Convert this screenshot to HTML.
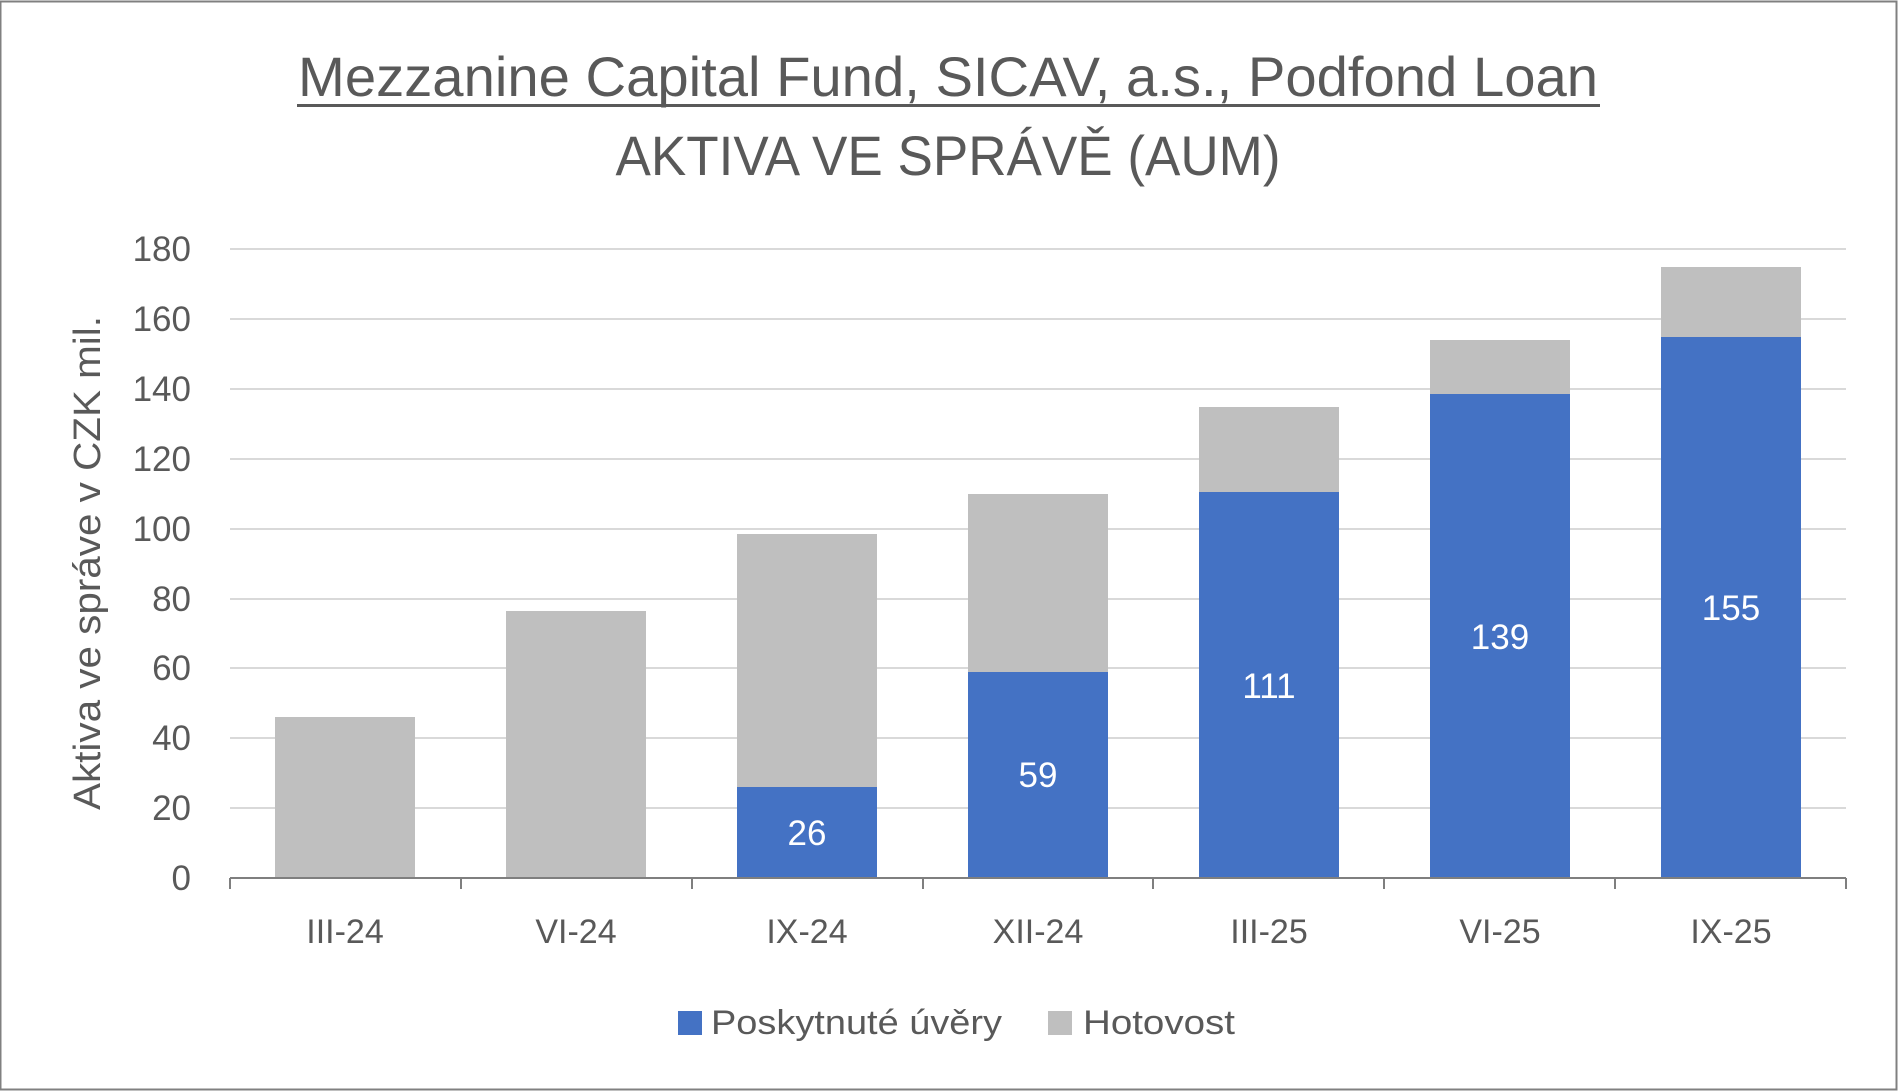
<!DOCTYPE html>
<html><head><meta charset="utf-8"><style>
html,body{margin:0;padding:0;background:#fff}
svg{display:block}
text{font-family:"Liberation Sans",sans-serif;fill:#595959}
</style></head><body>
<svg width="1898" height="1091" viewBox="0 0 1898 1091" xmlns="http://www.w3.org/2000/svg">
<rect x="0.5" y="1.5" width="1896" height="1088" fill="#fff" stroke="#808080" stroke-width="2"/>
<text x="948" y="96" font-size="56" text-anchor="middle" textLength="1300" lengthAdjust="spacingAndGlyphs">Mezzanine Capital Fund, SICAV, a.s., Podfond Loan</text>
<rect x="297" y="104" width="1303" height="3" fill="#595959"/>
<text x="948" y="175" font-size="56" text-anchor="middle" textLength="665" lengthAdjust="spacingAndGlyphs">AKTIVA VE SPRÁVĚ (AUM)</text>
<g stroke="#d9d9d9" stroke-width="2">
<line x1="230" x2="1846" y1="249" y2="249"/><line x1="230" x2="1846" y1="319" y2="319"/>
<line x1="230" x2="1846" y1="389" y2="389"/><line x1="230" x2="1846" y1="459" y2="459"/>
<line x1="230" x2="1846" y1="529" y2="529"/><line x1="230" x2="1846" y1="599" y2="599"/>
<line x1="230" x2="1846" y1="668" y2="668"/><line x1="230" x2="1846" y1="738" y2="738"/>
<line x1="230" x2="1846" y1="808" y2="808"/>
</g>
<g font-size="35" text-anchor="end">
<text x="191" y="261">180</text><text x="191" y="331">160</text><text x="191" y="401">140</text>
<text x="191" y="471">120</text><text x="191" y="541">100</text><text x="191" y="611">80</text>
<text x="191" y="680">60</text><text x="191" y="750">40</text><text x="191" y="820">20</text>
<text x="191" y="890">0</text>
</g>
<text transform="translate(100,563) rotate(-90)" font-size="38" text-anchor="middle" textLength="494" lengthAdjust="spacingAndGlyphs">Aktiva ve správe v CZK mil.</text>
<g>
<rect x="275" y="717" width="140" height="161" fill="#bfbfbf"/>
<rect x="506" y="611" width="140" height="267" fill="#bfbfbf"/>
<rect x="737" y="534" width="140" height="253" fill="#bfbfbf"/>
<rect x="737" y="787" width="140" height="91" fill="#4472c4"/>
<rect x="968" y="494" width="140" height="178" fill="#bfbfbf"/>
<rect x="968" y="672" width="140" height="206" fill="#4472c4"/>
<rect x="1199" y="407" width="140" height="85" fill="#bfbfbf"/>
<rect x="1199" y="492" width="140" height="386" fill="#4472c4"/>
<rect x="1430" y="340" width="140" height="54" fill="#bfbfbf"/>
<rect x="1430" y="394" width="140" height="484" fill="#4472c4"/>
<rect x="1661" y="267" width="140" height="70" fill="#bfbfbf"/>
<rect x="1661" y="337" width="140" height="541" fill="#4472c4"/>
</g>
<g font-size="35" text-anchor="middle">
<text x="807" y="845" style="fill:#fff">26</text>
<text x="1038" y="787" style="fill:#fff">59</text>
<text x="1269" y="698" style="fill:#fff">111</text>
<text x="1500" y="649" style="fill:#fff">139</text>
<text x="1731" y="620" style="fill:#fff">155</text>
</g>
<line x1="230" x2="1846" y1="878" y2="878" stroke="#7f7f7f" stroke-width="2"/>
<g stroke="#7f7f7f" stroke-width="2">
<line x1="230" x2="230" y1="878" y2="889"/><line x1="461" x2="461" y1="878" y2="889"/>
<line x1="692" x2="692" y1="878" y2="889"/><line x1="923" x2="923" y1="878" y2="889"/>
<line x1="1153" x2="1153" y1="878" y2="889"/><line x1="1384" x2="1384" y1="878" y2="889"/>
<line x1="1615" x2="1615" y1="878" y2="889"/><line x1="1846" x2="1846" y1="878" y2="889"/>
</g>
<g font-size="34" text-anchor="middle">
<text x="345" y="943">III-24</text><text x="576" y="943">VI-24</text><text x="807" y="943">IX-24</text>
<text x="1038" y="943">XII-24</text><text x="1269" y="943">III-25</text><text x="1500" y="943">VI-25</text>
<text x="1731" y="943">IX-25</text>
</g>
<rect x="678" y="1011" width="24" height="24" fill="#4472c4"/>
<text x="711" y="1034" font-size="34" textLength="291" lengthAdjust="spacingAndGlyphs">Poskytnuté úvěry</text>
<rect x="1048" y="1011" width="24" height="24" fill="#bfbfbf"/>
<text x="1083" y="1034" font-size="34" textLength="152" lengthAdjust="spacingAndGlyphs">Hotovost</text>
</svg>
</body></html>
